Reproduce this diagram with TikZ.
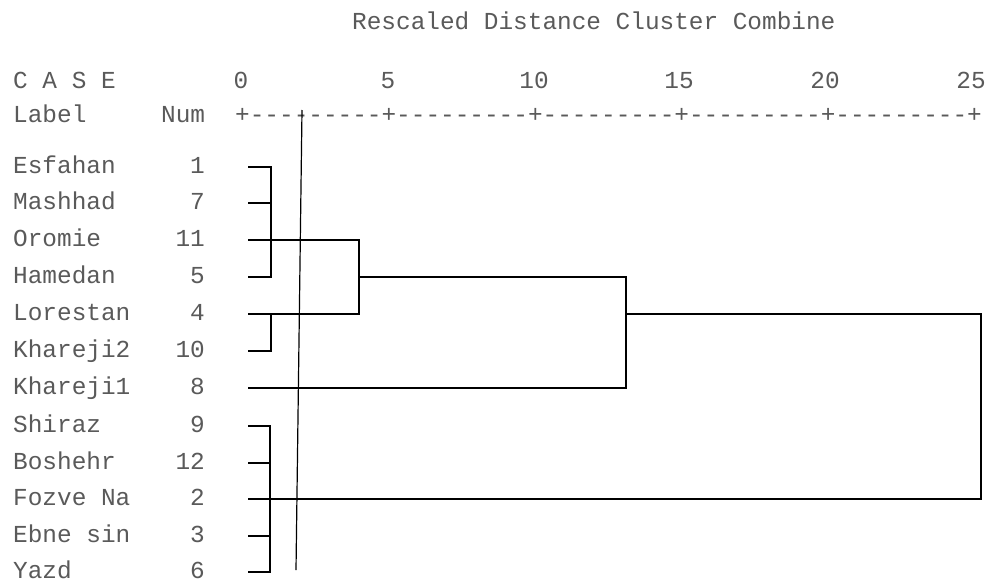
\documentclass[tikz,border=0pt]{standalone}
\usepackage{fontspec}
\setmonofont{Liberation Mono}
\definecolor{txt}{HTML}{5A5A5A}
\tikzset{
  lbl/.style={font=\ttfamily\fontsize{24.4}{26}\selectfont, text=txt, inner sep=0pt},
  tree/.style={line width=2.8pt, line join=miter, line cap=rect},
  cutline/.style={line width=1.2pt}
}
\begin{document}
\begin{tikzpicture}[x=1pt,y=-1pt]
\useasboundingbox (0,0) rectangle (988,581);
\fill[white] (0,0) rectangle (988,581);
% header
\node[lbl, anchor=base west] (title) at (352,29) {Rescaled Distance Cluster Combine};
\node[lbl, anchor=base west] (case) at (13,88) {C A S E};
\node[lbl, anchor=base west] (labelh) at (13,122) {Label};
\node[lbl, anchor=base west] (numh) at (161,122) {Num};
\node[lbl, anchor=base] (t0) at (241,88) {0};
\node[lbl, anchor=base] (t5) at (388,88) {5};
\node[lbl, anchor=base] (t10) at (534,88) {10};
\node[lbl, anchor=base] (t15) at (679,88) {15};
\node[lbl, anchor=base] (t20) at (825,88) {20};
\node[lbl, anchor=base] (t25) at (971,88) {25};
\node[lbl, anchor=base west] (ruler) at (235,122) {+---------+---------+---------+---------+---------+};
% leaves
\foreach \name/\num/\y [count=\i] in {Esfahan/1/167, Mashhad/7/203, Oromie/11/240, Hamedan/5/277, Lorestan/4/314, Khareji2/10/351, Khareji1/8/388, Shiraz/9/426, Boshehr/12/463, Fozve Na/2/499, Ebne sin/3/536, Yazd/6/572}{
  \node[lbl, anchor=base west] (n\i) at (13,\y+6) {\name};
  \node[lbl, anchor=base east] (k\i) at (205,\y+6) {\num};
  \coordinate (L\i) at (249,\y);
}
% joins
\coordinate (A1) at (271,167); \coordinate (A2) at (271,203); \coordinate (A4) at (271,277);
\coordinate (B5) at (271,314); \coordinate (B6) at (271,351);
\coordinate (C3) at (359,240); \coordinate (C5) at (359,314); \coordinate (Cm) at (359,277);
\coordinate (D1) at (626,277); \coordinate (D2) at (626,388); \coordinate (Dm) at (626,314);
\coordinate (E1) at (981,314); \coordinate (E2) at (981,499);
\coordinate (F8) at (270,426); \coordinate (F9) at (270,463); \coordinate (F11) at (270,536); \coordinate (F12) at (270,572);
% tree
\draw[tree] (L1) -- (A1) -- (A4) -- (L4);
\draw[tree] (L2) -- (A2);
\draw[tree] (L3) -- (C3) -- (C5) -- (L5);
\draw[tree] (B5) -- (B6) -- (L6);
\draw[tree] (Cm) -- (D1) -- (D2) -- (L7);
\draw[tree] (Dm) -- (E1) -- (E2) -- (L10);
\draw[tree] (L8) -- (F8) -- (F12) -- (L12);
\draw[tree] (L9) -- (F9);
\draw[tree] (L11) -- (F11);
% cut line
\coordinate (cutT) at (302,110);
\coordinate (cutB) at (296,570);
\draw[cutline] (cutT) -- (cutB);
\end{tikzpicture}
\end{document}
